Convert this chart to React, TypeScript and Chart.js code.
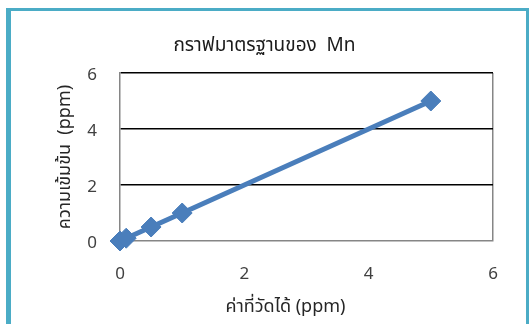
import React, { useEffect, useRef } from "react";
import { Chart, registerables } from "chart.js";

Chart.register(...registerables);

const xValues = [0, 0.1, 0.5, 1, 5];
const yValues = [0, 0.1, 0.5, 1, 5];
const titleText = "กราฟมาตรฐานของ  Mn";
const xTitle = "ค่าที่วัดได้ (ppm)";
const yTitle = "ความเข้มข้น  (ppm)";
const axisMin = 0;
const axisMax = 6;
const axisStep = 2;

const FONT = "'Noto Sans Thai', 'Leelawadee UI', Tahoma, 'Noto Sans', 'DejaVu Sans', sans-serif";

export default function App() {
  const ref = useRef<HTMLCanvasElement | null>(null);

  useEffect(() => {
    if (!ref.current) return;
    const gray = "#868686";
    const chart = new Chart(ref.current, {
      type: "line",
      data: {
        datasets: [
          {
            data: xValues.map((x, i) => ({ x, y: yValues[i] })),
            borderColor: "#4A7EBB",
            backgroundColor: "#4A7EBB",
            borderWidth: 5,
            pointStyle: "rectRot",
            pointRadius: 10,
            pointBorderWidth: 1,
            pointBorderColor: "#4A7EBB",
            pointBackgroundColor: "#4A7EBB",
            tension: 0,
            clip: false as any,
            yAxisID: "y",
          },
        ],
      },
      options: {
        responsive: false,
        animation: false,
        layout: { padding: { left: 0, right: 0, top: 0, bottom: 0 } },
        plugins: {
          legend: { display: false },
          tooltip: { enabled: false },
          title: {
            display: true,
            text: titleText,
            color: "#1a1a1a",
            font: { family: FONT, size: 19, weight: "normal" },
            padding: { top: 35.6, bottom: 14.6 },
          },
        },
        scales: {
          x: {
            type: "linear",
            min: axisMin,
            max: axisMax,
            afterFit: (s: any) => {
              s.height = 83;
            },
            ticks: {
              stepSize: axisStep,
              padding: 24,
              color: "#404040",
              font: { family: FONT, size: 17 },
            },
            grid: {
              drawTicks: false,
              color: (c: any) => (c.tick && c.tick.value === axisMax ? gray : "rgba(0,0,0,0)"),
              lineWidth: 1.5,
            },
            border: { display: true, color: gray, width: 1.5 },
            title: {
              display: true,
              text: xTitle + "         ",
              color: "#262626",
              font: { family: FONT, size: 18 },
              padding: { top: 0, bottom: 5 },
            },
          },
          y: {
            type: "linear",
            position: "left",
            min: axisMin,
            max: axisMax,
            afterFit: (s: any) => {
              s.width = 120;
            },
            ticks: {
              stepSize: axisStep,
              padding: 23,
              labelOffset: 4,
              color: "#404040",
              font: { family: FONT, size: 17 },
            },
            grid: {
              drawTicks: false,
              color: (c: any) => (c.tick && c.tick.value === axisMin ? "rgba(0,0,0,0)" : "#000000"),
              lineWidth: 1.5,
            },
            border: { display: true, color: gray, width: 1.5 },
            title: {
              display: true,
              text: yTitle,
              color: "#262626",
              font: { family: FONT, size: 18 },
              padding: { top: 56, bottom: 0 },
            },
          },
          yRight: {
            type: "linear",
            position: "right",
            min: axisMin,
            max: axisMax,
            afterFit: (s: any) => {
              s.width = 36;
            },
            ticks: { display: false },
            grid: { display: false },
            border: { display: false },
          },
        },
      },
    });
    return () => chart.destroy();
  }, []);

  return (
    <div
      style={{
        position: "fixed",
        left: 0,
        top: 0,
        width: 529,
        height: 324,
        overflow: "hidden",
        background: "#ffffff",
      }}
    >
      <canvas
        ref={ref}
        width={529}
        height={324}
        style={{ position: "absolute", left: 0, top: 0, width: 529, height: 324 }}
      />
      <div
        style={{
          position: "absolute",
          left: 6,
          top: 8,
          width: 523,
          height: 330,
          boxSizing: "border-box",
          borderLeft: "5px solid #4BACC6",
          borderTop: "3px solid #4BACC6",
          borderRight: "3px solid #4BACC6",
          pointerEvents: "none",
        }}
      />
    </div>
  );
}
